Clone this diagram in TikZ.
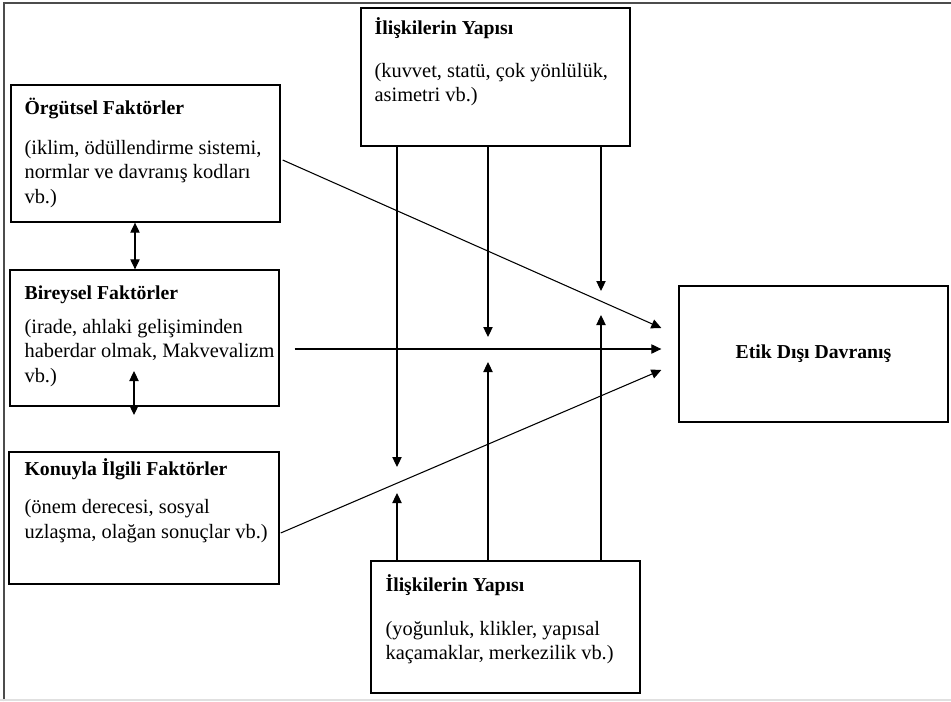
\documentclass[tikz,border=0pt]{standalone}
\usepackage{fontspec}
\setmainfont{Liberation Serif}
\usetikzlibrary{arrows.meta,positioning}

\newcommand{\baslik}[1]{{\fontsize{14.8}{18.4}\selectfont\textbf{#1}}}

\begin{document}
\begin{tikzpicture}[x=.75pt,y=-.75pt,font=\fontsize{15.3}{18.4}\selectfont,
  kutu/.style={draw,line width=1pt,inner sep=0pt,minimum width=201.75pt},
  metin/.style={anchor=north west,align=left,inner sep=0pt},
  ok/.style={-{Triangle[length=7.5pt,width=7pt]},line width=.8pt},
  cift/.style={{Triangle[length=7.5pt,width=7pt]}-{Triangle[length=7.5pt,width=7pt]},line width=.8pt}]
 \useasboundingbox (0,0) rectangle (951,701);
 % frame
 \draw[black!70,line width=1.5pt] (4,701)--(4,3)--(951,3);
 \draw[black!12,line width=.8pt] (0,700)--(951,700);
 % boxes
 \node[kutu,minimum height=102.75pt] (org) at (145.5,153.5) {};
 \node[kutu,minimum height=103.5pt] (relT) at (495.5,77) {};
 \node[kutu,minimum height=102pt] (bir) at (144.5,338) {};
 \node[kutu,minimum height=99pt,minimum width=202.5pt] (kon) at (144,518) {};
 \node[kutu,minimum height=99pt] (relB) at (505.5,627) {};
 \node[kutu,minimum height=102pt] (etik) at (813.5,354) {\baslik{Etik Dışı Davranış}};
 % texts
 \node[metin] (orgT) at ([shift={(14,12.5)}]org.north west)
   {\strut\baslik{Örgütsel Faktörler}\\[11.4pt](iklim, ödüllendirme sistemi,\\normlar ve davranış kodları\\vb.)};
 \node[metin] (relTT) at ([shift={(14,10)}]relT.north west)
   {\strut\baslik{İlişkilerin Yapısı}\\[13.3pt](kuvvet, statü, çok yönlülük,\\asimetri vb.)};
 \node[metin] (birT) at ([shift={(15,12.5)}]bir.north west)
   {\strut\baslik{Bireysel Faktörler}\\[6.9pt](irade, ahlaki gelişiminden\\haberdar olmak, Makvevalizm\\vb.)};
 \node[metin] (konT) at ([shift={(16,6.5)}]kon.north west)
   {\strut\baslik{Konuyla İlgili Faktörler}\\[10.6pt](önem derecesi, sosyal\\uzlaşma, olağan sonuçlar vb.)};
 \node[metin] (relBT) at ([shift={(15,13.5)}]relB.north west)
   {\strut\baslik{İlişkilerin Yapısı}\\[14.4pt](yoğunluk, klikler, yapısal\\kaçamaklar, merkezilik vb.)};
 % arrows to etik
 \draw[ok] ([shift={(2,6.5)}]org.east) -- ([shift={(-17,-26)}]etik.west);
 \draw[ok] ([shift={(15,11)}]bir.east) -- ([shift={(-17,-5)}]etik.west);
 \draw[ok] ([shift={(1,15)}]kon.east) -- ([shift={(-17,16)}]etik.west);
 % between factor boxes
 \draw[cift] (135,0 |- org.south) -- (135,0 |- bir.north);
 \draw[cift] (134,371) -- (134,415);
 % vertical arrows
 \foreach \x/\y in {397/467,488/337,601/291}
  \draw[ok] (\x,0 |- relT.south) -- (\x,\y);
 \foreach \x/\y in {397/493,488/362,601/315}
  \draw[ok] (\x,0 |- relB.north) -- (\x,\y);
\end{tikzpicture}
\end{document}
